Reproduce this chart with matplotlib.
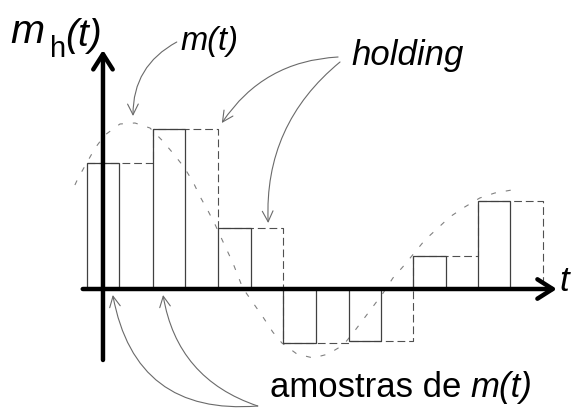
import numpy as np
import matplotlib
matplotlib.use("Agg")
import matplotlib.pyplot as plt

plt.rcParams['font.family'] = ['Liberation Sans', 'DejaVu Sans']

# ── Data (time in sampling periods, amplitude in arbitrary units) ────────────
# message m(t)
m_t = [-0.43, -0.38, -0.12, 0.03, 0.26, 0.49, 0.72, 0.90, 1.07, 1.24, 1.38,
       1.49, 1.61, 1.72, 1.84, 1.99, 2.14, 2.30, 2.45, 2.60, 2.74, 2.97,
       3.22, 3.45, 3.68, 3.83, 3.98, 4.13, 4.29, 4.44, 4.59, 4.78, 4.93,
       5.13, 5.31, 5.54, 5.77, 6.00, 6.26]
m_v = [1.04, 1.11, 1.41, 1.54, 1.65, 1.66, 1.61, 1.49, 1.36, 1.22, 1.07,
       0.92, 0.78, 0.64, 0.47, 0.26, 0.01, -0.14, -0.28, -0.43, -0.54, -0.65,
       -0.69, -0.65, -0.56, -0.44, -0.31, -0.18, -0.04, 0.11, 0.22, 0.37, 0.49,
       0.61, 0.72, 0.82, 0.91, 0.96, 0.99]

# samples (flat-top pulses) and hold period
sample_t = [-0.25, 0.76, 1.76, 2.76, 3.76, 4.75, 5.74]
sample_v = [1.26, 1.60, 0.61, -0.54, -0.52, 0.33, 0.88]
pulse_width = 0.5
hold_period = 1.0

# ── Figure ───────────────────────────────────────────────────────────────────
fig = plt.figure(figsize=(5.86, 4.17), dpi=100)
ax = fig.add_axes([0, 0, 1, 1])
ax.set_xlim(-1.577, 7.397)
ax.set_ylim(-1.28, 2.89)
ax.axis('off')

# message signal
ax.plot(m_t, m_v, color='#808080', lw=0.8, linestyle=(0, (4.5, 9)), zorder=2)

# held signal (staircase), dashed
st = np.array(sample_t)
sv = np.array(sample_v)
hold_x = np.repeat(np.append(st, st[-1] + hold_period), 2)[1:]
hold_y = np.append(np.repeat(sv, 2), 0.0)
ax.plot(hold_x, hold_y, color='#505050', lw=0.8, linestyle=(0, (7, 3.5)), zorder=3)

# flat-top pulses
ax.bar(sample_t, sample_v, width=pulse_width, align='edge', fill=False,
       edgecolor='#404040', lw=0.9, zorder=4)

# ── Axes with arrow heads ────────────────────────────────────────────────────
axis_style = dict(arrowstyle='->,head_length=0.55,head_width=0.35', lw=3.2,
                  color='black', mutation_scale=20, shrinkA=0, shrinkB=0)
ax.annotate('', xy=(6.95, 0), xytext=(-0.31, 0), arrowprops=axis_style, zorder=6)
ax.annotate('', xy=(0, 2.39), xytext=(0, -0.71), arrowprops=axis_style, zorder=6)

# ── Labels ───────────────────────────────────────────────────────────────────
ax.text(-1.42, 2.46, 'm', fontsize=29.5, style='italic', va='baseline')
ax.text(-0.81, 2.32, 'h', fontsize=21, va='baseline')
ax.text(-0.58, 2.43, '(t)', fontsize=28, style='italic', va='baseline')
ax.text(6.99, -0.02, 't', fontsize=25, style='italic', va='baseline')
ax.text(1.19, 2.39, 'm(t)', fontsize=23.5, style='italic', va='baseline')
ax.text(3.81, 2.24, 'holding', fontsize=25, style='italic', va='baseline')
ax.text(2.56, -1.08, 'amostras de', fontsize=25, va='baseline')
ax.text(5.63, -1.08, 'm(t)', fontsize=25, style='italic', va='baseline')

# ── Pointer arrows ───────────────────────────────────────────────────────────
def pointer(xy, xytext, rad):
    ax.annotate('', xy=xy, xytext=xytext,
                arrowprops=dict(arrowstyle='->,head_length=0.7,head_width=0.35',
                                color='#6a6a6a', lw=0.8, mutation_scale=11,
                                shrinkA=0, shrinkB=0,
                                connectionstyle=f'arc3,rad={rad}'),
                zorder=5)

pointer((0.46, 1.73), (1.13, 2.47), 0.3)
pointer((1.82, 1.66), (3.60, 2.32), 0.25)
pointer((2.53, 0.66), (3.63, 2.27), 0.25)
pointer((0.15, -0.06), (2.37, -1.17), -0.45)
pointer((0.92, -0.06), (2.37, -1.17), -0.3)

plt.savefig("out.png", dpi=100)
